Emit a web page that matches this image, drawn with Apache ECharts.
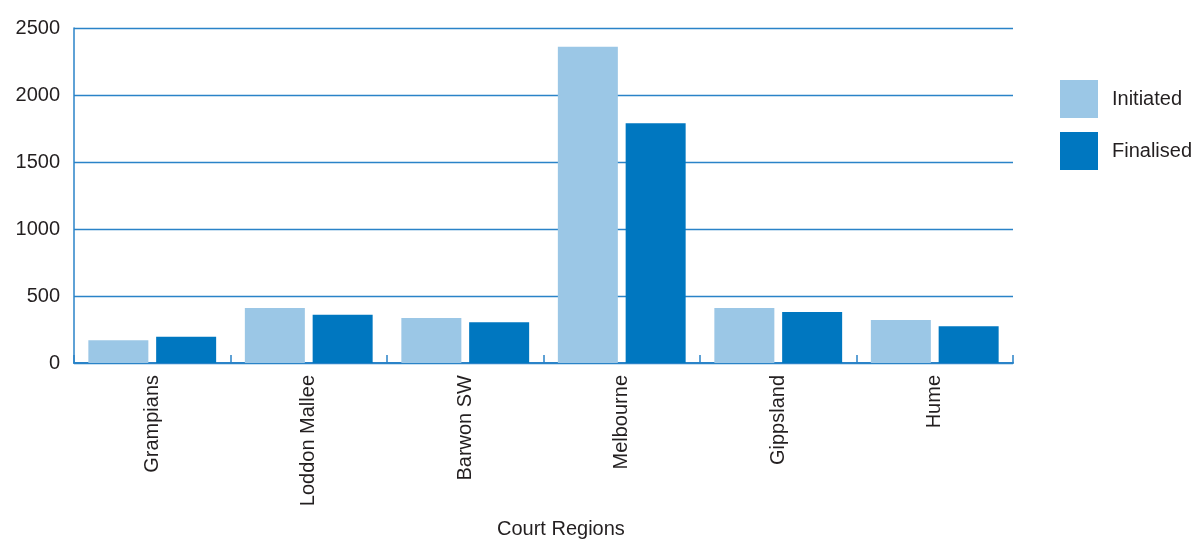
<!DOCTYPE html>
<html>
<head>
<meta charset="utf-8">
<script src="https://cdn.jsdelivr.net/npm/echarts@6/dist/echarts.min.js"></script>
<style>
html,body{margin:0;padding:0;background:#fff;}
#chart{width:1197px;height:541px;}
</style>
</head>
<body>
<div id="chart"></div>
<script>
const categories = ['Grampians', 'Loddon Mallee', 'Barwon SW', 'Melbourne', 'Gippsland', 'Hume'];
const initiated = [170, 410, 335, 2360, 410, 320];
const finalised = [195, 360, 305, 1790, 380, 275];
const yTicks = [0, 500, 1000, 1500, 2000, 2500];

const FONT = 'Liberation Sans';
const TXT = '#231f20';
const BLUE_LINE = '#2a83c8';

const chart = echarts.init(document.getElementById('chart'));
chart.setOption({
  animation: false,
  backgroundColor: '#ffffff',
  grid: { left: 74, right: 184, top: 28, bottom: 178, containLabel: false },
  legend: {
    orient: 'vertical',
    left: 1060,
    top: 80,
    padding: 0,
    itemWidth: 38,
    itemHeight: 38,
    itemGap: 14,
    icon: 'rect',
    textStyle: { fontFamily: FONT, fontSize: 20, color: TXT, padding: [6, 0, 0, 9] },
    data: ['Initiated', 'Finalised']
  },
  xAxis: {
    type: 'category',
    data: categories,
    axisLine: { lineStyle: { color: BLUE_LINE, width: 2 } },
    axisTick: { show: true, inside: true, length: 8, lineStyle: { color: BLUE_LINE, width: 1.5 } },
    axisLabel: { rotate: 90, fontFamily: FONT, fontSize: 20, color: TXT, margin: 12 },
    splitLine: { show: false }
  },
  yAxis: {
    type: 'value',
    min: yTicks[0],
    max: yTicks[yTicks.length - 1],
    interval: 500,
    axisLine: { show: true, lineStyle: { color: BLUE_LINE, width: 1.5 } },
    axisTick: { show: false },
    axisLabel: { fontFamily: FONT, fontSize: 20, color: TXT, margin: 14, formatter: v => String(v) },
    splitLine: { lineStyle: { color: BLUE_LINE, width: 1.3 } }
  },
  graphic: [{
    type: 'text',
    left: 497,
    top: 519,
    style: { text: 'Court Regions', fontFamily: FONT, fontSize: 20, fill: TXT }
  }],
  series: [
    { name: 'Initiated', type: 'bar', data: initiated, barWidth: 60, barGap: '13%', itemStyle: { color: '#9bc7e6' } },
    { name: 'Finalised', type: 'bar', data: finalised, barWidth: 60, itemStyle: { color: '#0077c0' } }
  ]
});
</script>
</body>
</html>
